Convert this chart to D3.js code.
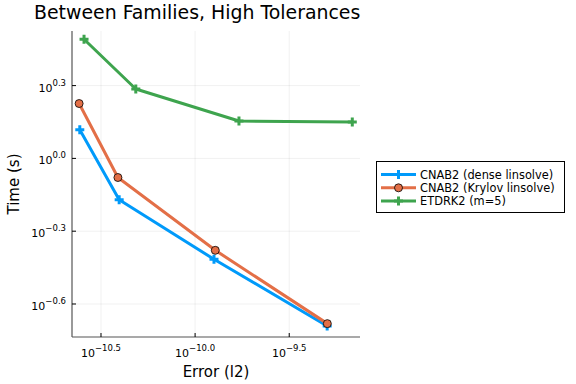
<!DOCTYPE html>
<html lang="en">
<head>
<meta charset="utf-8">
<title>Between Families, High Tolerances</title>
<script src="https://cdnjs.cloudflare.com/ajax/libs/d3/7.8.5/d3.min.js"></script>
<style>
    body { margin: 0; background: #fff; }
    svg { display: block; font-family: "DejaVu Sans", sans-serif; }
    .grid line { stroke: #000; stroke-opacity: 0.1; stroke-width: 0.6; }
    .tick-label { font-size: 11px; fill: #000; }
</style>
</head>
<body>
<svg id="chart"></svg>
<script>
    const width = 576;
    const height = 384;

    // error (l2) vs time (s)
    const denseErr = [2.44e-11, 3.95e-11, 1.26e-10, 5.03e-10];
    const denseTime = [1.312, 0.676, 0.384, 0.204];
    const krylovErr = [2.42e-11, 3.89e-11, 1.28e-10, 5.04e-10];
    const krylovTime = [1.683, 0.834, 0.418, 0.2085];
    const etdErr = [2.57e-11, 4.84e-11, 1.71e-10, 6.84e-10];
    const etdTime = [3.097, 1.932, 1.426, 1.413];

    const xTickExp = ['-10.5', '-10.0', '-9.5'];
    const yTickExp = ['0.3', '0.0', '-0.3', '-0.6'];

    const series = [
        { name: 'CNAB2 (dense linsolve)', x: denseErr, y: denseTime, color: '#009AFA', marker: 'cross' },
        { name: 'CNAB2 (Krylov linsolve)', x: krylovErr, y: krylovTime, color: '#E36F47', marker: 'circle' },
        { name: 'ETDRK2 (m=5)', x: etdErr, y: etdTime, color: '#3EA44E', marker: 'cross' }
    ];

    const plot = { left: 72, right: 360, top: 31, bottom: 337 };

    const x = d3.scaleLog()
        .domain([Math.pow(10, -10.654), Math.pow(10, -9.124)])
        .range([plot.left, plot.right]);
    const y = d3.scaleLog()
        .domain([Math.pow(10, -0.736), Math.pow(10, 0.525)])
        .range([plot.bottom, plot.top]);

    const svg = d3.select('#chart')
        .attr('width', width)
        .attr('height', height);

    // grid
    const grid = svg.append('g').attr('class', 'grid');
    xTickExp.forEach(e => {
        const px = x(Math.pow(10, +e));
        grid.append('line').attr('x1', px).attr('x2', px).attr('y1', plot.top).attr('y2', plot.bottom);
    });
    yTickExp.forEach(e => {
        const py = y(Math.pow(10, +e));
        grid.append('line').attr('x1', plot.left).attr('x2', plot.right).attr('y1', py).attr('y2', py);
    });

    // axes (ticks point inward)
    const axisColor = '#555';
    svg.append('line').attr('x1', plot.left).attr('x2', plot.right)
        .attr('y1', plot.bottom).attr('y2', plot.bottom)
        .attr('stroke', axisColor).attr('stroke-width', 1.2);
    svg.append('line').attr('x1', plot.left).attr('x2', plot.left)
        .attr('y1', plot.top).attr('y2', plot.bottom)
        .attr('stroke', axisColor).attr('stroke-width', 1.2);

    xTickExp.forEach(e => {
        const px = x(Math.pow(10, +e));
        svg.append('line').attr('x1', px).attr('x2', px)
            .attr('y1', plot.bottom).attr('y2', plot.bottom - 4)
            .attr('stroke', '#000').attr('stroke-width', 1);
        const t = svg.append('text').attr('class', 'tick-label')
            .attr('x', px).attr('y', plot.bottom + 20)
            .attr('text-anchor', 'middle');
        t.append('tspan').text('10');
        t.append('tspan').attr('dy', -6).attr('font-size', 8.5).text(e.replace('-', '\u2212'));
    });

    yTickExp.forEach(e => {
        const py = y(Math.pow(10, +e));
        svg.append('line').attr('x1', plot.left).attr('x2', plot.left + 4)
            .attr('y1', py).attr('y2', py)
            .attr('stroke', '#000').attr('stroke-width', 1);
        const t = svg.append('text').attr('class', 'tick-label')
            .attr('x', plot.left - 6).attr('y', py + 6)
            .attr('text-anchor', 'end');
        t.append('tspan').text('10');
        t.append('tspan').attr('dy', -6).attr('font-size', 8.5).text(e.replace('-', '\u2212'));
    });

    // titles
    svg.append('text').attr('x', 34).attr('y', 19)
        .attr('font-size', 18.9).text('Between Families, High Tolerances');
    svg.append('text').attr('x', (plot.left + plot.right) / 2).attr('y', 377)
        .attr('text-anchor', 'middle').attr('font-size', 15).text('Error (l2)');
    svg.append('text')
        .attr('transform', `translate(19, ${(plot.top + plot.bottom) / 2}) rotate(-90)`)
        .attr('text-anchor', 'middle').attr('font-size', 15).text('Time (s)');

    // series
    const line = d3.line().x(d => x(d[0])).y(d => y(d[1]));

    function drawMarker(g, type, color, cx, cy) {
        if (type === 'circle') {
            g.append('circle').attr('cx', cx).attr('cy', cy).attr('r', 4)
                .attr('fill', color).attr('stroke', '#000').attr('stroke-width', 0.8);
        } else {
            g.append('path')
                .attr('d', `M${cx - 4.5},${cy}H${cx + 4.5}M${cx},${cy - 4.5}V${cy + 4.5}`)
                .attr('stroke', color).attr('stroke-width', 3).attr('fill', 'none');
        }
    }

    series.forEach(s => {
        const pts = s.x.map((v, i) => [v, s.y[i]]);
        const g = svg.append('g');
        g.append('path').datum(pts)
            .attr('d', line)
            .attr('fill', 'none')
            .attr('stroke', s.color)
            .attr('stroke-width', 3)
            .attr('stroke-linejoin', 'round');
        pts.forEach(p => drawMarker(g, s.marker, s.color, x(p[0]), y(p[1])));
    });

    // legend
    const legend = svg.append('g');
    legend.append('rect')
        .attr('x', 376.5).attr('y', 161.5).attr('width', 188).attr('height', 51)
        .attr('fill', '#fff').attr('stroke', '#000').attr('stroke-width', 1);
    series.forEach((s, i) => {
        const ly = 174.5 + i * 13.3;
        legend.append('line').attr('x1', 381).attr('x2', 416).attr('y1', ly).attr('y2', ly)
            .attr('stroke', s.color).attr('stroke-width', 3);
        drawMarker(legend, s.marker, s.color, 398.5, ly);
        legend.append('text').attr('x', 420).attr('y', ly + 4)
            .attr('font-size', 11.4).text(s.name);
    });
</script>
</body>
</html>
